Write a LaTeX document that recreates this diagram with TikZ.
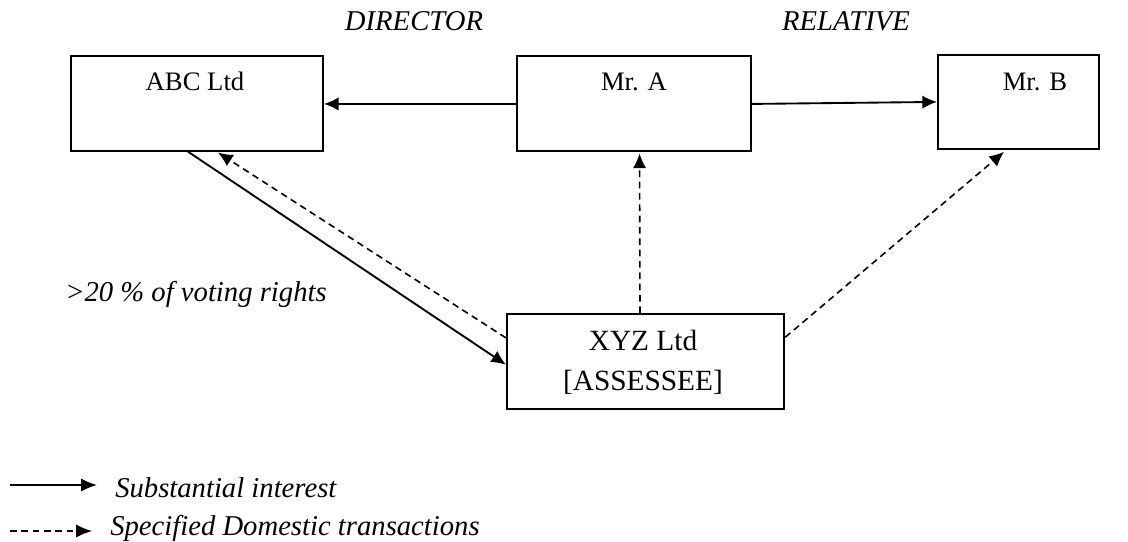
\documentclass[tikz,border=0pt]{standalone}
\usepackage{fontspec}
\setmainfont{Liberation Serif}
\usetikzlibrary{arrows.meta,calc}
\begin{document}
\begin{tikzpicture}[x=0.75pt,y=-0.75pt,
  box/.style={draw,line width=1.4pt,inner sep=0pt,anchor=north west},
  txt/.style={inner sep=0pt,anchor=base,font=\fontsize{20}{24}\selectfont},
  btxt/.style={inner sep=0pt,anchor=base,font=\fontsize{22}{26}\selectfont},
  itxt/.style={inner sep=0pt,anchor=base,font=\fontsize{21.5}{26}\selectfont\itshape},
  tip/.style={-{Latex[length=11pt,width=10pt]}},
  solidarrow/.style={tip,line width=1.4pt},
  dasharrow/.style={tip,line width=1.2pt,dash pattern=on 5pt off 3.5pt}]
\useasboundingbox (0,0) rectangle (1128,542);

% entity boxes
\node[box,minimum width=189pt,minimum height=71pt] (abc) at (70,55) {};
\node[box,minimum width=175.5pt,minimum height=71pt] (mra) at (516,55) {};
\node[box,minimum width=121pt,minimum height=70.5pt] (mrb) at (937,54) {};
\node[box,minimum width=208pt,minimum height=71pt] (xyz) at (506,313) {};

% box captions
\node[txt] (abct) at (195,90) {ABC Ltd};
\node[txt] (mrat) at (634,91) {Mr. A};
\node[txt] (mrbt) at (1035,90) {Mr. B};
\node[btxt] (xyzt1) at (643,350) {XYZ Ltd};
\node[btxt] (xyzt2) at (643,390) {[ASSESSEE]};

% relation labels
\node[itxt] (dir) at (414,31) {DIRECTOR};
\node[itxt] (rel) at (846,31) {RELATIVE};
\node[itxt,anchor=base west] (vote) at (65,301) {>20 \% of voting rights};

% substantial interest
\draw[solidarrow] ([yshift=-0.5pt]mra.west) -- ([yshift=-0.5pt]abc.east);
\draw[solidarrow] ([yshift=-0.5pt]mra.east) -- (mrb.west);
\draw[solidarrow] ($(abc.south west)!0.464!(abc.south east)$) -- ([yshift=-2.6pt]xyz.west);

% specified domestic transactions
\draw[dasharrow] ([yshift=17.5pt]xyz.west) -- ($(abc.south west)!0.583!(abc.south east)+(0,1)$);
\draw[dasharrow] ([xshift=-4.2pt]xyz.north) -- ([xshift=4.2pt,yshift=-1.5pt]mra.south);
\draw[dasharrow] ([yshift=18pt]xyz.east) -- ([xshift=-10.9pt,yshift=-1.5pt]mrb.south);

% legend
\coordinate (l1a) at (10,485);
\coordinate (l1b) at (97,485);
\coordinate (l2a) at (10,531);
\coordinate (l2b) at (92,531);
\draw[line width=1.4pt,-{Latex[length=12pt,width=10pt]}] (l1a) -- (l1b);
\draw[line width=1.2pt,dash pattern=on 5pt off 3.5pt,-{Latex[length=12pt,width=10pt]}] (l2a) -- (l2b);
\node[itxt,anchor=base west] (leg1) at (115,497) {Substantial interest};
\node[itxt,anchor=base west] (leg2) at (110,535) {Specified Domestic transactions};
\end{tikzpicture}
\end{document}
